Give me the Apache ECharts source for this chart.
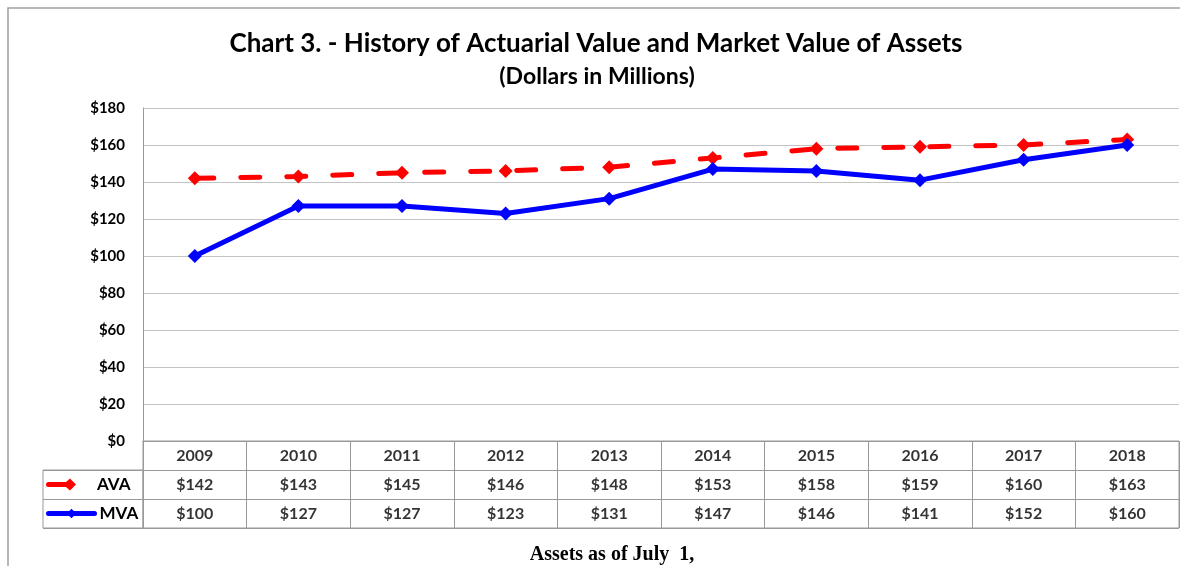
<!DOCTYPE html>
<html>
<head>
<meta charset="UTF-8">
<title>Chart 3</title>
<script src="https://cdn.jsdelivr.net/npm/echarts@6.0.0/dist/echarts.min.js"></script>
<style>
  html, body { margin: 0; padding: 0; background: #fff; }
</style>
</head>
<body>
<div id="main" style="width: 1192px; height: 566px;"></div>
<script>
// data
const years = ['2009', '2010', '2011', '2012', '2013', '2014', '2015', '2016', '2017', '2018'];
const ava = [142, 143, 145, 146, 148, 153, 158, 159, 160, 163];
const mva = [100, 127, 127, 123, 131, 147, 146, 141, 152, 160];
const tableRows = ['Year', 'AVA', 'MVA'];

const FONT = 'Lato';
const money = v => '$' + v;

// table cells: one label per column per row
const cellData = [];
years.forEach((y, i) => {
  cellData.push({ value: [i, 'Year'], name: y });
  cellData.push({ value: [i, 'AVA'], name: money(ava[i]) });
  cellData.push({ value: [i, 'MVA'], name: money(mva[i]) });
});

const legendText = { fontFamily: FONT, fontWeight: 'bold', fontSize: 17, color: '#000', lineHeight: 16 };
// short solid key with a diamond head, like the spreadsheet's table legend
const avaKey = 'path://M2.5,3.5 L20,3.5 L24,0 L30,6 L24,12 L20,8.5 L2.5,8.5 A2.5,2.5 0 0 1 2.5,3.5 Z';

const chart = echarts.init(document.getElementById('main'));
chart.setOption({
  animation: false,
  textStyle: { fontFamily: FONT },
  title: [
    {
      text: 'Chart 3. - History of Actuarial Value and Market Value of Assets',
      left: 591, top: 26, textAlign: 'center',
      textStyle: { fontFamily: FONT, fontWeight: 'bold', fontSize: 26, color: '#000' }
    },
    {
      text: '(Dollars in Millions)',
      left: 592, top: 60, textAlign: 'center',
      textStyle: { fontFamily: FONT, fontWeight: 'bold', fontSize: 23, color: '#000' }
    },
    {
      text: 'Assets as of July  1,',
      left: 607, top: 540, textAlign: 'center',
      textStyle: { fontFamily: 'Liberation Serif', fontWeight: 'bold', fontSize: 20, color: '#000' }
    }
  ],
  legend: [
    {
      data: [{ name: 'AVA', icon: avaKey }],
      left: 46, top: 476, padding: 0,
      itemWidth: 30, itemHeight: 12, selectedMode: false,
      itemStyle: { color: '#ff0000', borderWidth: 0 },
      lineStyle: { width: 0 },
      textStyle: Object.assign({ padding: [0, 0, 0, 16] }, legendText)
    },
    {
      data: ['MVA'], left: 46, top: 505, padding: 0,
      itemWidth: 46, itemHeight: 12, selectedMode: false,
      lineStyle: { width: 5, cap: 'round' },
      textStyle: Object.assign({ padding: [0, 0, 0, 0] }, legendText)
    }
  ],
  graphic: [{
    type: 'polyline',
    shape: { points: [[8, 566], [8, 8], [1180, 8]] },
    style: { stroke: '#a0a0a0', lineWidth: 1.5, fill: null }
  }],
  grid: [
    { left: 143, top: 108, width: 1036, height: 333 },
    { left: 143, top: 441, width: 1036, height: 87, show: true, borderColor: '#999', borderWidth: 1 },
    { left: 43, top: 470, width: 100, height: 58, show: true, borderColor: '#999', borderWidth: 1 }
  ],
  xAxis: [
    {
      gridIndex: 0, type: 'category', data: years, boundaryGap: true,
      axisLine: { lineStyle: { color: '#999' } },
      axisTick: { show: false }, axisLabel: { show: false }
    },
    {
      gridIndex: 1, type: 'category', data: years, boundaryGap: true,
      axisLine: { show: false }, axisTick: { show: false }, axisLabel: { show: false },
      splitLine: { show: true, interval: 0, lineStyle: { color: '#999', width: 1 } }
    },
    {
      gridIndex: 2, type: 'value', min: 0, max: 1, show: false
    }
  ],
  yAxis: [
    {
      gridIndex: 0, type: 'value', min: 0, max: 180, interval: 20,
      axisLine: { show: true, lineStyle: { color: '#999' } },
      axisTick: { show: false },
      axisLabel: {
        formatter: v => money(v), margin: 18,
        fontFamily: FONT, fontWeight: 'bold', fontSize: 15, color: '#000'
      },
      splitLine: { lineStyle: { color: '#c4c4c4', width: 1 } }
    },
    {
      gridIndex: 1, type: 'category', data: tableRows, inverse: true,
      axisLine: { show: false }, axisTick: { show: false }, axisLabel: { show: false },
      splitLine: { show: true, interval: 0, lineStyle: { color: '#999', width: 1 } }
    },
    {
      gridIndex: 2, type: 'category', data: ['AVA', 'MVA'], inverse: true,
      axisLine: { show: false }, axisTick: { show: false }, axisLabel: { show: false },
      splitLine: { show: true, interval: 0, lineStyle: { color: '#999', width: 1 } }
    }
  ],
  series: [
    {
      name: 'AVA', type: 'line', data: ava,
      xAxisIndex: 0, yAxisIndex: 0,
      symbol: 'diamond', symbolSize: 14,
      itemStyle: { color: '#ff0000' },
      lineStyle: { color: '#ff0000', width: 5, type: [19, 27], cap: 'round' }
    },
    {
      name: 'MVA', type: 'line', data: mva,
      xAxisIndex: 0, yAxisIndex: 0,
      symbol: 'diamond', symbolSize: 14,
      itemStyle: { color: '#0000ff' },
      lineStyle: { color: '#0000ff', width: 5 }
    },
    {
      type: 'scatter', xAxisIndex: 1, yAxisIndex: 1,
      data: cellData, symbolSize: 1,
      itemStyle: { color: 'transparent' },
      label: {
        show: true, position: 'inside', formatter: p => p.name,
        fontFamily: FONT, fontWeight: 'bold', fontSize: 16, color: '#000'
      },
      silent: true
    }
  ]
});
</script>
</body>
</html>
